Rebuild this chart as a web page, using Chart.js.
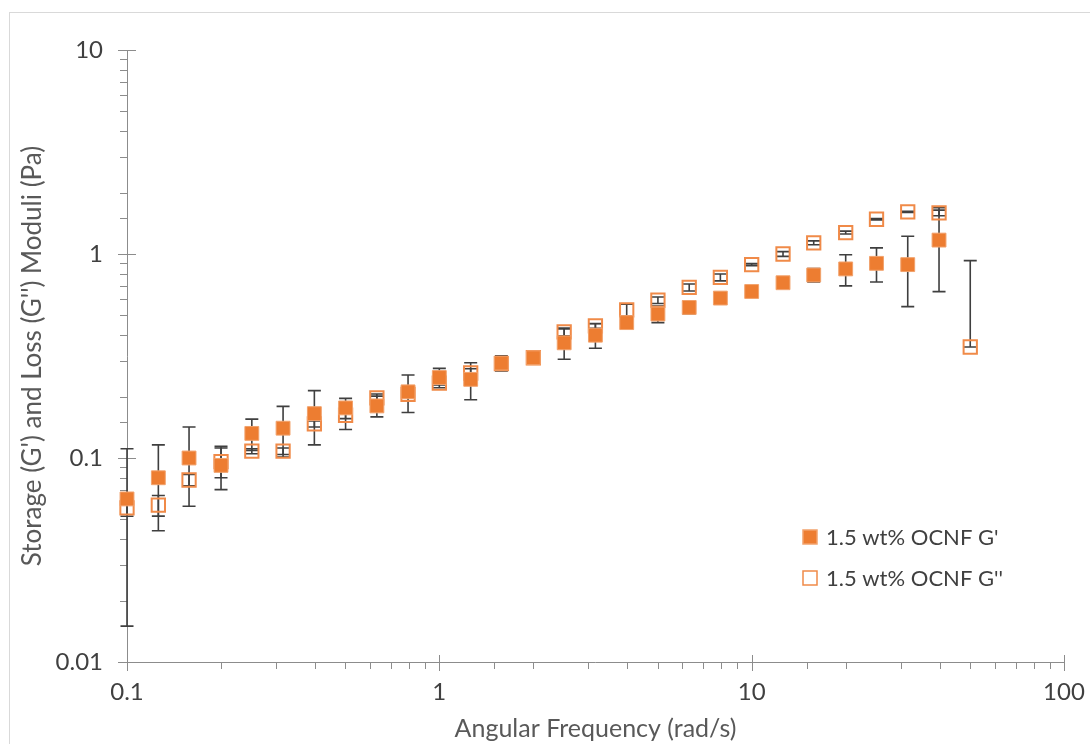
<!DOCTYPE html>
<html>
<head>
<meta charset="utf-8">
<script src="https://cdn.jsdelivr.net/npm/chart.js@4.4.1/dist/chart.umd.min.js"></script>
<style>
  html, body { margin: 0; padding: 0; background: #fff; }
  #wrap { position: relative; width: 1090px; height: 744px; }
</style>
</head>
<body>
<div id="wrap"><canvas id="modChart" width="1090" height="744"></canvas></div>
<script>
// angular frequency (rad/s)
const freq = [0.1, 0.126, 0.158, 0.2, 0.251, 0.316, 0.398, 0.501, 0.631, 0.794,
              1, 1.26, 1.58, 2, 2.51, 3.16, 3.98, 5.01, 6.31, 7.94,
              10, 12.6, 15.8, 20, 25.1, 31.6, 39.8, 50.1];

// storage modulus G' (Pa) and its error (+/-)
const storage = [0.063, 0.080, 0.100, 0.092, 0.132, 0.140, 0.165, 0.176, 0.180, 0.211,
                 0.248, 0.243, 0.292, 0.310, 0.367, 0.400, 0.461, 0.508, 0.547, 0.608,
                 0.655, 0.723, 0.789, 0.845, 0.900, 0.887, 1.17, null];
const storageErr = [0.048, 0.036, 0.042, 0.022, 0.023, 0.039, 0.049, 0.020, 0.021, 0.044,
                    0.027, 0.050, 0.025, 0, 0.062, 0.055, 0.02, 0.047, 0.039, 0,
                    0, 0, 0.06, 0.147, 0.171, 0.335, 0.516, null];

// loss modulus G'' (Pa) and its error (+/-)
const loss = [0.057, 0.0587, 0.078, 0.096, 0.108, 0.108, 0.147, 0.162, 0.197, 0.205,
              0.233, 0.261, 0.290, 0.310, 0.415, 0.444, 0.532, 0.594, 0.686, 0.768,
              0.887, 1.0, 1.135, 1.274, 1.48, 1.61, 1.59, 0.35];
const lossErr = [0.0052, 0.0068, 0.005, 0.016, 0.003, 0.004, 0.005, 0.024, 0.009, 0.005,
                 0.005, 0.013, 0.005, 0.005, 0.018, 0.012, 0.036, 0.022, 0.027, 0.030,
                 0.01, 0.027, 0.025, 0.02, 0.01, 0.01, 0.05, 0.578];

const labels = ["1.5 wt% OCNF G'", "1.5 wt% OCNF G''"];

const orange = '#ED7D31';
const textCol = '#595959';
const tickCol = '#404040';
const axisCol = '#8c8c8c';
const FONT = 'Lato, "Open Sans", sans-serif';

const isDecade = (v) => Math.abs(Math.log10(v) - Math.round(Math.log10(v))) < 1e-9;

// chart frame + axes with crossing major ticks
const axesPlugin = {
    id: 'axesPlugin',
    beforeDraw(chart) {
        const ctx = chart.ctx;
        ctx.save();
        ctx.strokeStyle = '#d9d9d9';
        ctx.lineWidth = 1;
        ctx.strokeRect(9.5, 12.5, 1200, 800);
        ctx.restore();
    },
    beforeDatasetsDraw(chart) {
        const ctx = chart.ctx;
        const xs = chart.scales.x, ys = chart.scales.y;
        const a = chart.chartArea;
        ctx.save();
        ctx.strokeStyle = axisCol;
        ctx.lineWidth = 1;
        ctx.beginPath();
        ctx.moveTo(a.left + 0.5, a.top);
        ctx.lineTo(a.left + 0.5, a.bottom + 0.5);
        ctx.lineTo(a.right, a.bottom + 0.5);
        ctx.stroke();
        ctx.beginPath();
        ys.ticks.forEach(t => {
            const py = Math.round(ys.getPixelForValue(t.value)) + 0.5;
            if (isDecade(t.value)) {
                ctx.moveTo(a.left - 9, py); ctx.lineTo(a.left + 9, py);
            } else {
                ctx.moveTo(a.left - 7, py); ctx.lineTo(a.left, py);
            }
        });
        xs.ticks.forEach(t => {
            const px = Math.round(xs.getPixelForValue(t.value)) + 0.5;
            if (isDecade(t.value)) {
                ctx.moveTo(px, a.bottom - 7); ctx.lineTo(px, a.bottom + 9);
            } else {
                ctx.moveTo(px, a.bottom); ctx.lineTo(px, a.bottom + 7);
            }
        });
        ctx.stroke();

        // error bars, under the markers
        ctx.strokeStyle = '#3f3f3f';
        ctx.lineWidth = 1.6;
        chart.data.datasets.forEach(ds => {
            ds.data.forEach((pt, i) => {
                const e = ds.errors[i];
                if (pt.y == null || e == null || e === 0) return;
                const px = xs.getPixelForValue(pt.x);
                const hi = ys.getPixelForValue(pt.y + e);
                const lo = ys.getPixelForValue(pt.y - e > 0 ? pt.y - e : pt.y);
                ctx.beginPath();
                ctx.moveTo(px, hi); ctx.lineTo(px, lo);
                ctx.moveTo(px - 6.5, hi); ctx.lineTo(px + 6.5, hi);
                ctx.moveTo(px - 6.5, lo); ctx.lineTo(px + 6.5, lo);
                ctx.stroke();
            });
        });
        ctx.restore();
    },
    afterDraw(chart) {
        // legend inside the plot, bottom right
        const ctx = chart.ctx;
        ctx.save();
        ctx.font = '22px ' + FONT;
        ctx.textBaseline = 'middle';
        chart.data.datasets.forEach((ds, i) => {
            const cy = 537 + i * 41;
            ctx.fillStyle = ds.backgroundColor;
            ctx.fillRect(803, cy - 7, 14, 14);
            ctx.strokeStyle = ds.borderColor;
            ctx.lineWidth = 1.5;
            ctx.strokeRect(803, cy - 7, 14, 14);
            ctx.fillStyle = tickCol;
            ctx.fillText(ds.label, 826, cy + 1);
        });
        ctx.restore();
    }
};

const toPoints = (ys) => freq.map((x, i) => ({ x: x, y: ys[i] }));

new Chart(document.getElementById('modChart'), {
    type: 'scatter',
    data: {
        datasets: [
            {
                label: labels[0],
                data: toPoints(storage),
                errors: storageErr,
                clip: false,
                pointStyle: 'rect',
                pointRadius: 9.8,
                pointHoverRadius: 9.8,
                backgroundColor: orange,
                borderColor: '#f2a26c',
                borderWidth: 1,
            },
            {
                label: labels[1],
                data: toPoints(loss),
                errors: lossErr,
                clip: false,
                pointStyle: 'rect',
                pointRadius: 9.4,
                pointHoverRadius: 9.4,
                backgroundColor: 'rgba(255,255,255,0)',
                borderColor: '#f08a48',
                borderWidth: 2,
            },
        ],
    },
    options: {
        responsive: false,
        animation: false,
        devicePixelRatio: 1,
        layout: { padding: { top: 50, right: 26, left: 0, bottom: 0 } },
        plugins: {
            legend: { display: false },
            tooltip: { enabled: false },
        },
        scales: {
            x: {
                type: 'logarithmic',
                min: 0.1,
                max: 100,
                grid: { display: false, drawTicks: false },
                border: { display: false },
                afterFit: (s) => { s.height = 82; s.paddingLeft = 0; s.paddingRight = 0; },
                ticks: {
                    autoSkip: false,
                    maxRotation: 0,
                    padding: 16,
                    color: tickCol,
                    font: { family: FONT, size: 24 },
                    callback: (v) => isDecade(v) ? String(Number(v.toPrecision(1))) : '',
                },
                title: {
                    display: true,
                    text: 'Angular Frequency (rad/s)',
                    color: textCol,
                    font: { family: FONT, size: 25 },
                    padding: { top: 0, bottom: 0 },
                },
            },
            y: {
                type: 'logarithmic',
                min: 0.01,
                max: 10,
                grid: { display: false, drawTicks: false },
                border: { display: false },
                afterFit: (s) => { s.width = 127; s.paddingTop = 0; s.paddingBottom = 0; },
                ticks: {
                    autoSkip: false,
                    padding: 24,
                    color: tickCol,
                    font: { family: FONT, size: 24 },
                    callback: (v) => isDecade(v) ? String(Number(v.toPrecision(1))) : '',
                },
                title: {
                    display: true,
                    text: "Storage (G') and Loss (G'') Moduli (Pa)",
                    color: textCol,
                    font: { family: FONT, size: 26 },
                    padding: { top: 17, bottom: 0 },
                },
            },
        },
    },
    plugins: [axesPlugin],
});
</script>
</body>
</html>
